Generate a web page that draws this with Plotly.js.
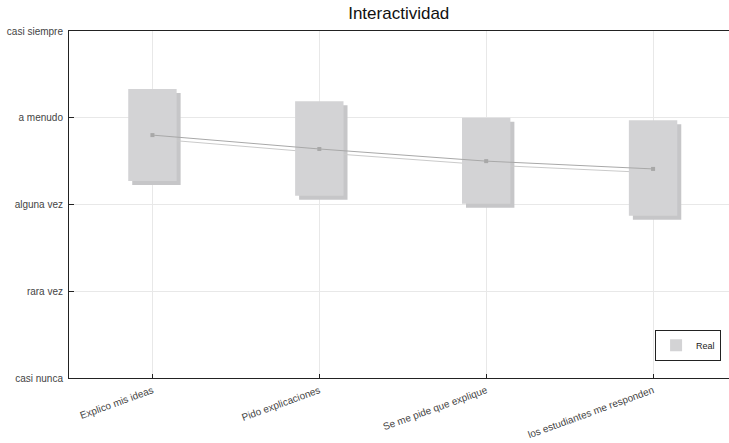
<!DOCTYPE html>
<html>
<head>
<meta charset="utf-8">
<script src="https://cdn.plot.ly/plotly-3.0.1.min.js"></script>
<style>html,body{margin:0;padding:0;background:#fff;}#chart{width:729px;height:443px;}</style>
</head>
<body>
<div id="chart"></div>
<script>
const categories = ["Explico mis ideas", "Pido explicaciones", "Se me pide que explique", "los estudiantes me responden"];
const meanValues = [3.80, 3.64, 3.50, 3.41];
const upperValues = [4.33, 4.19, 4.00, 3.97];
const lowerValues = [3.27, 3.10, 3.01, 2.87];
const levelValues = [1, 2, 3, 4, 5];
const levelLabels = ["casi nunca", "rara vez", "alguna vez", "a menudo", "casi siempre"];

const idx = categories.map((c, i) => i);
const heights = upperValues.map((u, i) => u - lowerValues[i]);

const W = 729, H = 443;
const mL = 69, mR = 0, mT = 31, mB = 65;
const plotW = W - mL - mR, plotH = H - mT - mB;
const xRange = [-0.5, 3.455];
const yRange = [1, 5];
const shadowPx = 4;
const dx = shadowPx * (xRange[1] - xRange[0]) / plotW;
const dy = shadowPx * (yRange[1] - yRange[0]) / plotH;

const barW = 0.29;
const tickFont = {family: "Liberation Sans, Arial, sans-serif", size: 10, color: "#444"};

const traces = [
  {type: "bar", x: idx, y: heights, base: lowerValues, width: barW,
   marker: {color: "#c6c6c8", line: {width: 0}}, xaxis: "x", yaxis: "y",
   showlegend: false, hoverinfo: "skip"},
  {type: "scatter", mode: "lines", x: idx, y: meanValues,
   line: {color: "#cacaca", width: 1}, xaxis: "x", yaxis: "y",
   showlegend: false, hoverinfo: "skip"},
  {type: "bar", x: idx, y: heights, base: lowerValues, width: barW, name: "Real",
   marker: {color: "#d3d3d5", line: {width: 0}}, xaxis: "x2", yaxis: "y2",
   showlegend: true},
  {type: "scatter", mode: "lines+markers", x: idx, y: meanValues,
   line: {color: "#a8a8a8", width: 1}, marker: {symbol: "square", size: 4, color: "#a8a8a8"},
   xaxis: "x2", yaxis: "y2", showlegend: false}
];

const layout = {
  width: W, height: H,
  margin: {l: mL, r: mR, t: mT, b: mB},
  paper_bgcolor: "#fff", plot_bgcolor: "#fff",
  title: {text: "Interactividad", x: 0.547, xanchor: "center", y: 0.985, yanchor: "top",
          font: {family: "Liberation Sans, Arial, sans-serif", size: 17, color: "#111"}},
  barmode: "overlay",
  showlegend: true,
  legend: {x: 0.988, xanchor: "right", y: 0.05, yanchor: "bottom",
           bgcolor: "#fff", bordercolor: "#222", borderwidth: 1,
           font: {family: "Liberation Sans, Arial, sans-serif", size: 9, color: "#222"},
           itemwidth: 30},
  xaxis: {range: [xRange[0] - dx, xRange[1] - dx], showgrid: false, zeroline: false,
          showticklabels: false, ticks: "", showline: false, fixedrange: true},
  yaxis: {range: [yRange[0] + dy, yRange[1] + dy], showgrid: false, zeroline: false,
          showticklabels: false, ticks: "", showline: false, fixedrange: true},
  xaxis2: {overlaying: "x", side: "bottom", range: xRange, tickmode: "array", tickvals: idx, ticktext: categories,
          tickangle: -20, tickfont: tickFont, ticks: "inside", ticklen: 4, tickcolor: "#222",
          ticklabelstandoff: 2,
          showgrid: true, gridcolor: "#e8e8e8", gridwidth: 1, zeroline: false,
          showline: true, linecolor: "#222", linewidth: 1, mirror: true, fixedrange: true},
  yaxis2: {overlaying: "y", side: "left", range: yRange, tickmode: "array", tickvals: levelValues, ticktext: levelLabels,
          tickfont: tickFont, ticks: "inside", ticklen: 5, tickcolor: "#222",
          ticklabelstandoff: 3,
          showgrid: true, gridcolor: "#e8e8e8", gridwidth: 1, zeroline: false,
          showline: true, linecolor: "#222", linewidth: 1, mirror: true, fixedrange: true}
};

Plotly.newPlot("chart", traces, layout, {displayModeBar: false, staticPlot: true});
</script>
</body>
</html>
